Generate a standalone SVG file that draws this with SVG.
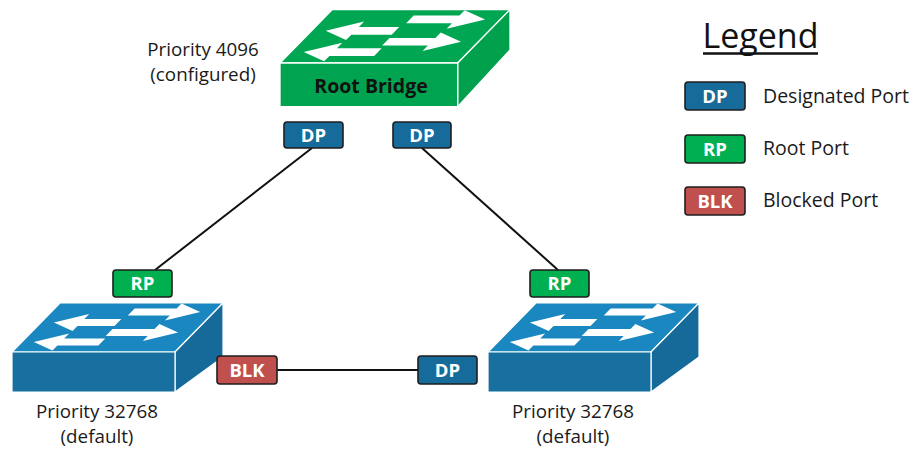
<svg xmlns="http://www.w3.org/2000/svg" xmlns:xlink="http://www.w3.org/1999/xlink" width="917" height="450" viewBox="0 0 917 450">
  <style>
    .lbl { font-family: "Open Sans", "Noto Sans", sans-serif; fill: #1a1a1a; font-size: 18.8px; text-anchor: middle; }
    .leg { font-family: "Open Sans", "Noto Sans", sans-serif; fill: #1a1a1a; font-size: 19.5px; }
    .badge rect { stroke: #1e1e1e; stroke-width: 1.6; }
    .badge text { font-family: "Open Sans", "Noto Sans", sans-serif; font-weight: bold; font-size: 18.5px; fill: #fff; text-anchor: middle; }
    .dp { fill: #176b9b; }
    .rp { fill: #00b050; }
    .blk { fill: #c0504d; }
    .edge { stroke: #fff; stroke-width: 1.2; stroke-linejoin: round; }
    .link { stroke: #111; stroke-width: 2; fill: none; }
    .arr { fill: #fff; }
  </style>
  <defs>
    <!-- four traffic arrows on the switch lid, drawn flat and skewed onto the top face -->
    <g id="arrows" class="arr">
      <polygon points="80,5.5 122,5.5 122,0.5 149,9 122,17.5 122,12.5 80,12.5"/>
      <polygon points="77,16 40,16 40,11 13,19.5 40,28 40,23 77,23"/>
      <polygon points="78,26 120,26 120,21 147,29.5 120,38 120,33 78,33"/>
      <polygon points="80,35.5 39,35.5 39,30.5 12,39 39,47.5 39,42.5 80,42.5"/>
    </g>
  </defs>

  <!-- connectors -->
  <g id="links">
    <line class="link" x1="312" y1="148" x2="155" y2="270"/>
    <line class="link" x1="422" y1="148" x2="558" y2="270"/>
    <line class="link" x1="277" y1="370" x2="418" y2="370"/>
  </g>

  <!-- root bridge -->
  <g id="root-bridge" transform="translate(280,63) scale(1.09)">
    <path class="edge" d="M0,0 L48,-49 L211,-49 L163,0 Z" fill="#00a651"/>
    <path class="edge" d="M163,0 L211,-49 L211,-12 L163,40 Z" fill="#00a04c"/>
    <rect class="edge" x="0" y="0" width="163" height="40" fill="#00a34f"/>
    <use xlink:href="#arrows" transform="translate(48,-49) skewX(-44.4)"/>
  </g>
  <text x="371" y="93" style="font-family:'Open Sans','Noto Sans',sans-serif;font-weight:bold;font-size:19.5px;fill:#111;text-anchor:middle">Root Bridge</text>
  <text class="lbl" x="203" y="56">Priority 4096</text>
  <text class="lbl" x="203" y="81">(configured)</text>

  <!-- left switch -->
  <g id="switch-left" transform="translate(12,352)">
    <path class="edge" d="M0,0 L48,-49 L211,-49 L163,0 Z" fill="#1b87c0"/>
    <path class="edge" d="M163,0 L211,-49 L211,5 L163,40 Z" fill="#156a9a"/>
    <rect class="edge" x="0" y="0" width="163" height="40" fill="#17709f"/>
    <use xlink:href="#arrows" transform="translate(48,-49) skewX(-44.4)"/>
  </g>
  <text class="lbl" x="97" y="418">Priority 32768</text>
  <text class="lbl" x="97" y="443">(default)</text>

  <!-- right switch -->
  <g id="switch-right" transform="translate(488,352)">
    <path class="edge" d="M0,0 L48,-49 L211,-49 L163,0 Z" fill="#1b87c0"/>
    <path class="edge" d="M163,0 L211,-49 L211,5 L163,40 Z" fill="#156a9a"/>
    <rect class="edge" x="0" y="0" width="163" height="40" fill="#17709f"/>
    <use xlink:href="#arrows" transform="translate(48,-49) skewX(-44.4)"/>
  </g>
  <text class="lbl" x="573" y="418">Priority 32768</text>
  <text class="lbl" x="573" y="443">(default)</text>

  <!-- port role badges -->
  <g id="port-root-left" class="badge">
    <rect class="dp" x="284" y="122" width="59" height="26" rx="3"/>
    <text x="313.5" y="141.5">DP</text>
  </g>
  <g id="port-root-right" class="badge">
    <rect class="dp" x="393" y="122" width="58" height="26" rx="3"/>
    <text x="422" y="141.5">DP</text>
  </g>
  <g id="port-left-up" class="badge">
    <rect class="rp" x="113" y="270" width="59" height="27" rx="3"/>
    <text x="142.5" y="290">RP</text>
  </g>
  <g id="port-right-up" class="badge">
    <rect class="rp" x="530" y="270" width="59" height="27" rx="3"/>
    <text x="559.5" y="290">RP</text>
  </g>
  <g id="port-left-side" class="badge">
    <rect class="blk" x="217" y="356" width="60" height="28" rx="3"/>
    <text x="247" y="376.5">BLK</text>
  </g>
  <g id="port-right-side" class="badge">
    <rect class="dp" x="418" y="356" width="59" height="28" rx="3"/>
    <text x="447.5" y="376.5">DP</text>
  </g>

  <!-- legend -->
  <g id="legend">
    <text x="760.5" y="48" style="font-family:'Open Sans','Noto Sans',sans-serif;font-size:34px;fill:#111;text-anchor:middle">Legend</text>
    <line x1="703" y1="53.5" x2="818" y2="53.5" stroke="#111" stroke-width="2.5"/>
    <g class="badge">
      <rect class="dp" x="685" y="82" width="60" height="28" rx="3"/>
      <text x="715" y="102.5">DP</text>
    </g>
    <text class="leg" x="763" y="103">Designated Port</text>
    <g class="badge">
      <rect class="rp" x="685" y="135" width="60" height="28" rx="3"/>
      <text x="715" y="155.5">RP</text>
    </g>
    <text class="leg" x="763" y="155">Root Port</text>
    <g class="badge">
      <rect class="blk" x="685" y="187" width="60" height="28" rx="3"/>
      <text x="715" y="207.5">BLK</text>
    </g>
    <text class="leg" x="763" y="207">Blocked Port</text>
  </g>
</svg>
